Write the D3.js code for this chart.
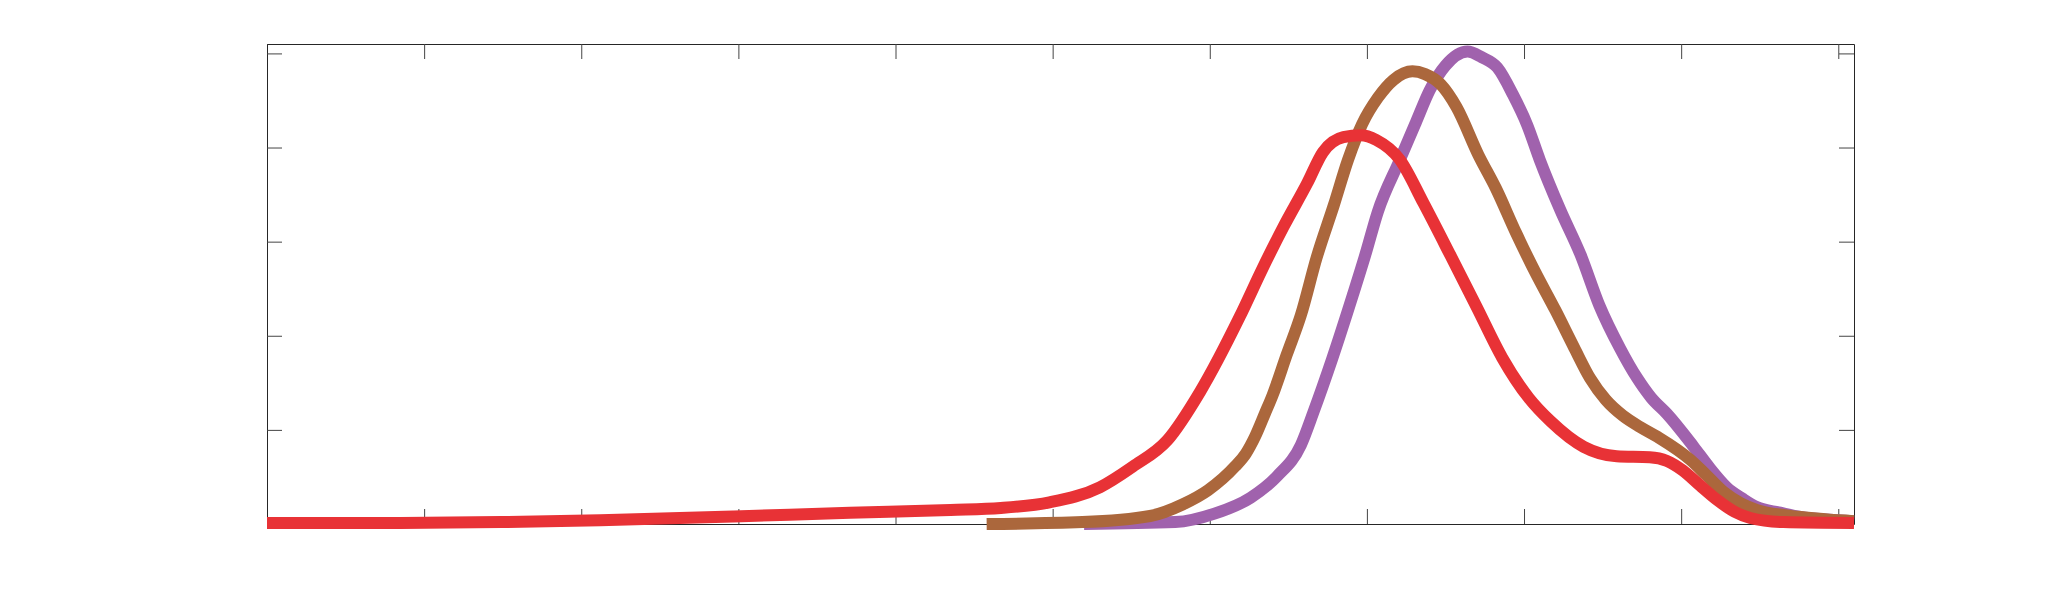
<!DOCTYPE html>
<html>
<head>
<meta charset="utf-8">
<script src="https://cdn.jsdelivr.net/npm/d3@7"></script>
<style>
  html, body { margin: 0; padding: 0; background: #ffffff; }
  svg { display: block; }
</style>
</head>
<body>
<svg id="chart" width="2048" height="589"></svg>
<script>
// ---- data (x in axis units, y in axis units) ----
const xTicks = [0, 1, 2, 3, 4, 5, 6, 7, 8, 9, 10];
const yTicks = [0, 1, 2, 3, 4, 5];

const redX = [0, 0.85, 1.49, 2.12, 2.97, 3.71, 4.35, 4.67, 4.98, 5.30, 5.51, 5.73, 5.94, 6.19, 6.34, 6.47, 6.62, 6.72, 6.85, 6.96, 7.06, 7.21, 7.36, 7.53, 7.70, 7.86, 8.03, 8.17, 8.38, 8.59, 8.80, 8.91, 9.01, 9.12, 9.23, 9.34, 9.44, 9.65, 10.1];
const redY = [0.01, 0.01, 0.02, 0.04, 0.08, 0.12, 0.15, 0.17, 0.23, 0.39, 0.61, 0.89, 1.41, 2.20, 2.73, 3.16, 3.62, 3.95, 4.11, 4.13, 4.08, 3.87, 3.41, 2.86, 2.30, 1.77, 1.34, 1.09, 0.82, 0.72, 0.71, 0.67, 0.57, 0.41, 0.255, 0.13, 0.064, 0.02, 0.01];

const brownX = [4.58, 5.19, 5.62, 5.83, 5.99, 6.16, 6.23, 6.29, 6.35, 6.40, 6.49, 6.58, 6.68, 6.79, 6.88, 6.97, 7.07, 7.17, 7.29, 7.37, 7.47, 7.57, 7.71, 7.82, 7.95, 8.07, 8.20, 8.32, 8.42, 8.52, 8.63, 8.74, 8.85, 9.06, 9.16, 9.27, 9.38, 9.48, 9.76, 10.1];
const brownY = [0.00, 0.02, 0.085, 0.21, 0.36, 0.61, 0.75, 0.935, 1.17, 1.37, 1.80, 2.22, 2.83, 3.39, 3.87, 4.25, 4.53, 4.72, 4.81, 4.78, 4.67, 4.43, 3.92, 3.57, 3.09, 2.68, 2.27, 1.87, 1.55, 1.32, 1.15, 1.03, 0.925, 0.68, 0.52, 0.34, 0.22, 0.15, 0.074, 0.03];

const purpleX = [5.20, 5.78, 6.03, 6.26, 6.43, 6.58, 6.66, 6.78, 6.91, 6.99, 7.07, 7.21, 7.31, 7.40, 7.50, 7.64, 7.73, 7.83, 7.93, 8.02, 8.10, 8.23, 8.36, 8.48, 8.61, 8.72, 8.81, 8.91, 9.08, 9.18, 9.29, 9.39, 9.48, 9.63, 9.76, 10.1];
const purpleY = [0.00, 0.02, 0.11, 0.28, 0.51, 0.84, 1.19, 1.76, 2.43, 2.86, 3.32, 3.87, 4.26, 4.61, 4.87, 5.02, 4.96, 4.85, 4.56, 4.24, 3.87, 3.34, 2.86, 2.32, 1.87, 1.55, 1.34, 1.17, 0.82, 0.60, 0.39, 0.27, 0.18, 0.12, 0.074, 0.03];

const seriesNames = ["purple", "brown", "red"];
const seriesColors = ["#a062ad", "#ab673c", "#e83236"];

// ---- layout ----
const svg = d3.select("#chart");
const mLeft = 267, mRight = 1854, mTop = 44, mBottom = 524;

const x = d3.scaleLinear().domain([0, 10.1]).range([mLeft, mRight]);
const y = d3.scaleLinear().domain([0, 5.1]).range([mBottom, mTop]);

const zip = (xs, ys) => xs.map((v, i) => ({x: v, y: ys[i]}));
const series = [zip(purpleX, purpleY), zip(brownX, brownY), zip(redX, redY)];

const line = d3.line()
  .x(d => x(d.x))
  .y(d => y(d.y))
  .curve(d3.curveMonotoneX);

// axes (box with inward ticks on all sides, no labels)
const axisColor = "#262626";
function styleAxis(g) {
  g.selectAll("path.domain").attr("stroke", axisColor).attr("stroke-width", 1);
  g.selectAll(".tick line").attr("stroke", "#444").attr("stroke-width", 1);
  g.selectAll(".tick text").remove();
}

svg.append("g")
  .attr("transform", `translate(0,${mBottom})`)
  .call(d3.axisBottom(x).tickValues(xTicks).tickSizeInner(-15).tickSizeOuter(0).tickFormat(""))
  .call(styleAxis);
svg.append("g")
  .attr("transform", `translate(0,${mTop})`)
  .call(d3.axisTop(x).tickValues(xTicks).tickSizeInner(-15).tickSizeOuter(0).tickFormat(""))
  .call(styleAxis);
svg.append("g")
  .attr("transform", `translate(${mLeft},0)`)
  .call(d3.axisLeft(y).tickValues(yTicks).tickSizeInner(-15).tickSizeOuter(0).tickFormat(""))
  .call(styleAxis);
svg.append("g")
  .attr("transform", `translate(${mRight},0)`)
  .call(d3.axisRight(y).tickValues(yTicks).tickSizeInner(-15).tickSizeOuter(0).tickFormat(""))
  .call(styleAxis);

// curves
svg.append("g")
  .selectAll("path.series")
  .data(series)
  .join("path")
  .attr("class", "series")
  .attr("fill", "none")
  .attr("stroke", (d, i) => seriesColors[i])
  .attr("stroke-width", 12)
  .attr("stroke-linejoin", "round")
  .attr("stroke-linecap", "butt")
  .attr("d", line);
</script>
</body>
</html>
